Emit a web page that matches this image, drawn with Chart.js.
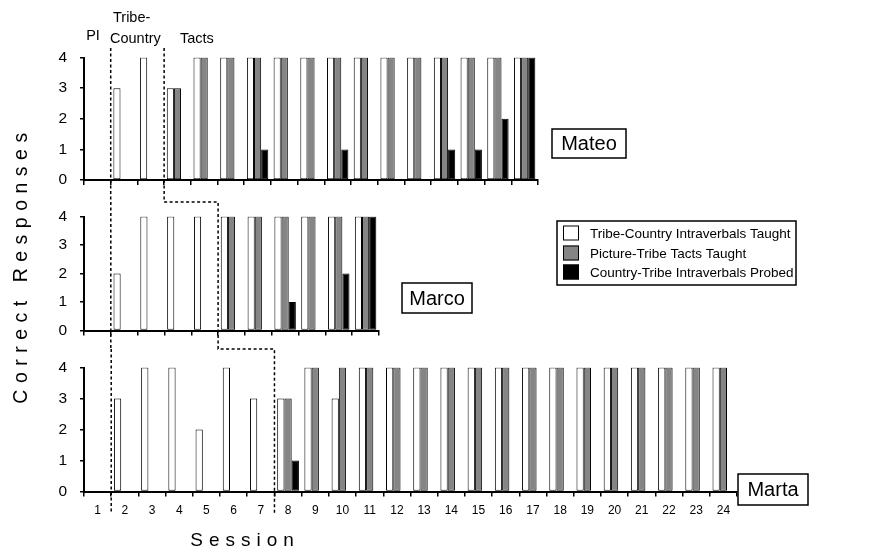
<!DOCTYPE html>
<html>
<head>
<meta charset="utf-8">
<script src="https://cdn.jsdelivr.net/npm/chart.js@4.4.1/dist/chart.umd.min.js"></script>
<style>
  html, body { margin: 0; padding: 0; background: #fff; }
  #wrap { position: relative; width: 888px; height: 554px; }
  #wrap canvas { position: absolute; left: 0; top: 0; }
</style>
</head>
<body>
<div id="wrap">
  <canvas id="mateo" width="888" height="554"></canvas>
  <canvas id="marco" width="888" height="554"></canvas>
  <canvas id="marta" width="888" height="554"></canvas>
</div>
<script>
// sessions (x tick labels)
const sessions = ['1','2','3','4','5','6','7','8','9','10','11','12','13','14','15','16','17','18','19','20','21','22','23','24'];
const legendLabels = ['Tribe-Country Intraverbals Taught', 'Picture-Tribe Tacts Taught', 'Country-Tribe Intraverbals Probed'];

// Mateo, sessions 1-17
const mateoTaught = [null, 3, 4, 3, 4, 4, 4, 4, 4, 4, 4, 4, 4, 4, 4, 4, 4];
const mateoTacts  = [null, null, null, 3, 4, 4, 4, 4, 4, 4, 4, 4, 4, 4, 4, 4, 4];
const mateoProbed = [0, null, null, 0, 0, 0, 1, 0, 0, 1, 0, 0, 0, 1, 1, 2, 4];

// Marco, sessions 1-11
const marcoTaught = [null, 2, 4, 4, 4, 4, 4, 4, 4, 4, 4];
const marcoTacts  = [null, null, null, null, null, 4, 4, 4, 4, 4, 4];
const marcoProbed = [0, null, null, null, null, 0, 0, 1, 0, 2, 4];

// Marta, sessions 1-24
const martaTaught = [null, 3, 4, 4, 2, 4, 3, 3, 4, 3, 4, 4, 4, 4, 4, 4, 4, 4, 4, 4, 4, 4, 4, 4];
const martaTacts  = [null, null, null, null, null, null, null, 3, 4, 4, 4, 4, 4, 4, 4, 4, 4, 4, 4, 4, 4, 4, 4, 4];
const martaProbed = [0, null, null, null, null, null, null, 1, 0, 0, 0, 0, 0, 0, 0, 0, 0, 0, 0, 0, 0, 0, 0, 0];

// last session of each phase (PI, Tribe-Country) per participant
const phaseEnds = [[1, 3], [1, 5], [1, 7]];

const FONT = '"Liberation Sans", Arial, Helvetica, sans-serif';
const GRAY = '#858585';
Chart.defaults.font.family = FONT;
Chart.defaults.color = '#000';

const decor = {
  id: 'decor',
  afterDraw(chart, args, opts) {
    const ctx = chart.ctx;
    ctx.save();
    // participant name box
    const b = opts.box;
    ctx.lineWidth = 1.5;
    ctx.strokeStyle = '#000';
    ctx.strokeRect(b[0], b[1], b[2], b[3]);
    ctx.fillStyle = '#000';
    ctx.font = '20px ' + FONT;
    ctx.textAlign = 'center';
    ctx.textBaseline = 'middle';
    ctx.fillText(opts.name, b[0] + b[2] / 2, b[1] + b[3] / 2 + 1);

    if (opts.overlay) {
      drawOverlay(ctx);
    }
    ctx.restore();
  }
};

function drawOverlay(ctx) {
  const charts = [mateoChart, marcoChart, Chart.getChart('marta')];
  const bx = (i, k) => charts[i].scales.x.getPixelForValue(phaseEnds[i][k] - 0.5);
  const ys = [48, 202, 349, 514];

  ctx.save();
  ctx.strokeStyle = '#000';
  ctx.lineWidth = 1.5;
  ctx.setLineDash([3, 2.5]);
  ctx.beginPath();
  for (let i = 0; i < 3; i++) {
    ctx.moveTo(bx(i, 0), ys[i]);
    ctx.lineTo(bx(i, 0), ys[i + 1]);
  }
  ctx.moveTo(bx(0, 1), ys[0]);
  for (let i = 0; i < 3; i++) {
    ctx.lineTo(bx(i, 1), ys[i]);
    ctx.lineTo(bx(i, 1), ys[i + 1]);
  }
  ctx.stroke();
  ctx.restore();

  // phase labels
  ctx.fillStyle = '#000';
  ctx.font = '14.5px ' + FONT;
  ctx.textBaseline = 'middle';
  ctx.textAlign = 'center';
  ctx.fillText('PI', 93, 36);
  ctx.textAlign = 'left';
  ctx.fillText('Tribe-', 113, 18);
  ctx.fillText('Country', 110, 39);
  ctx.fillText('Tacts', 180, 39);

  // legend
  ctx.lineWidth = 1.5;
  ctx.strokeRect(557, 221, 239, 64);
  const fills = ['#fff', GRAY, '#000'];
  const rowY = [233, 253, 272];
  ctx.font = '13.5px ' + FONT;
  for (let i = 0; i < 3; i++) {
    ctx.fillStyle = fills[i];
    ctx.fillRect(563, rowY[i] - 7.5, 16, 15);
    ctx.lineWidth = 1;
    ctx.strokeRect(563.5, rowY[i] - 7, 15, 14);
    ctx.fillStyle = '#000';
    ctx.fillText(legendLabels[i], 590, rowY[i] + 1);
  }

  // axis titles
  ctx.font = '19px ' + FONT;
  ctx.letterSpacing = '6px';
  ctx.textAlign = 'center';
  ctx.fillText('Session', 245, 541);
  ctx.save();
  ctx.font = '19.5px ' + FONT;
  ctx.letterSpacing = '6.5px';
  ctx.translate(22, 265);
  ctx.rotate(-Math.PI / 2);
  ctx.fillText('Correct Responses', 0, 0);
  ctx.restore();
  ctx.letterSpacing = '0px';
}

function panel(id, n, taught, tacts, probed, area, showLabels, name, box, overlay) {
  return new Chart(document.getElementById(id), {
    type: 'bar',
    data: {
      labels: sessions.slice(0, n),
      datasets: [
        { label: legendLabels[0], data: taught, backgroundColor: '#fff' },
        { label: legendLabels[1], data: tacts, backgroundColor: GRAY },
        { label: legendLabels[2], data: probed, backgroundColor: '#000' }
      ]
    },
    options: {
      responsive: false,
      animation: false,
      events: [],
      layout: {
        padding: { left: area[0] - 50, top: area[1], right: 888 - area[2], bottom: 554 - area[3] - 30 }
      },
      datasets: {
        bar: { categoryPercentage: 0.8, barPercentage: 1, borderColor: '#000', borderWidth: 1, borderSkipped: false }
      },
      plugins: {
        legend: { display: false },
        tooltip: { enabled: false },
        decor: { name: name, box: box, overlay: overlay }
      },
      scales: {
        x: {
          grid: { offset: true, drawOnChartArea: false, tickLength: 5, color: '#000', lineWidth: 1.5 },
          border: { color: '#000', width: 2 },
          ticks: { display: showLabels, font: { size: 12 }, padding: 7, maxRotation: 0, autoSkip: false },
          afterFit: s => { s.height = 30; }
        },
        y: {
          min: 0, max: 4,
          grid: { drawOnChartArea: false, tickLength: 4, color: '#000', lineWidth: 1.5 },
          border: { color: '#000', width: 2 },
          ticks: { stepSize: 1, font: { size: 15.5 }, padding: 13 },
          afterFit: s => { s.width = 50; }
        }
      }
    },
    plugins: [decor]
  });
}

const mateoChart = panel('mateo', 17, mateoTaught, mateoTacts, mateoProbed, [84, 57.5, 538, 180], false, 'Mateo', [552, 129, 74, 29], false);
const marcoChart = panel('marco', 11, marcoTaught, marcoTacts, marcoProbed, [84, 216.5, 379, 330.5], false, 'Marco', [402, 283, 70, 30], false);
const martaChart = panel('marta', 24, martaTaught, martaTacts, martaProbed, [84, 367.5, 737, 491.5], true, 'Marta', [738, 474, 70, 31], true);
</script>
</body>
</html>
